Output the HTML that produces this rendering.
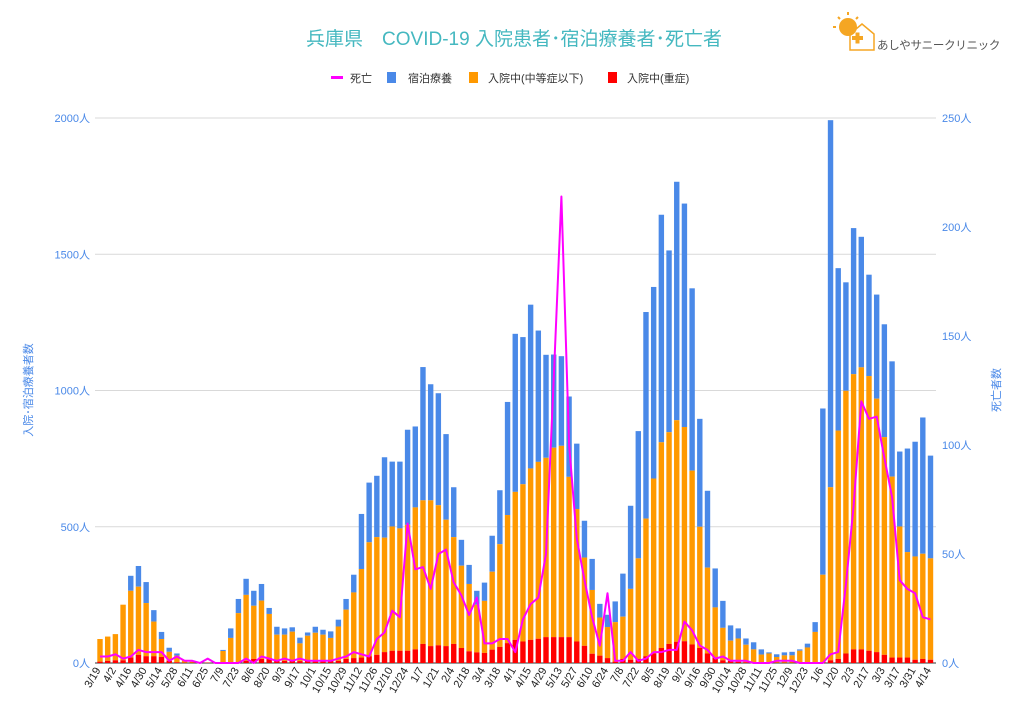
<!DOCTYPE html>
<html><head><meta charset="utf-8"><style>
body{margin:0;background:#fff;width:1024px;height:723px;overflow:hidden;font-family:"Liberation Sans","Noto Sans CJK JP",sans-serif}
</style></head><body>
<svg id="chart" width="1024" height="723" xmlns="http://www.w3.org/2000/svg" font-family="Liberation Sans, Noto Sans CJK JP, sans-serif">
<text x="514" y="45" text-anchor="middle" font-size="19" fill="#45b8c0">兵庫県　COVID-19 入院患者･宿泊療養者･死亡者</text>
<g>
<circle cx="848" cy="27" r="9" fill="#f5a623"/>
<g stroke="#f5a623" stroke-width="2"><line x1="848" y1="12" x2="848" y2="15"/><line x1="838" y1="17" x2="840" y2="19"/><line x1="858" y1="17" x2="856" y2="19"/><line x1="833" y1="27" x2="836" y2="27"/></g>
<path d="M850 50 V34 L862 24 L874 34 V50 Z" fill="none" stroke="#f5a623" stroke-width="1.5"/>
<rect x="852" y="36" width="11" height="4" fill="#f5a623"/><rect x="855.5" y="32.5" width="4" height="11" fill="#f5a623"/>
<text x="877" y="49" font-size="11.5" letter-spacing="-0.3" fill="#555">あしやサニークリニック</text>
</g>
<g font-size="11" fill="#333">
<g><rect x="331" y="76" width="12" height="3" fill="#ff00ff"/><text x="350" y="82">死亡</text></g>
<g><rect x="387" y="72" width="9" height="11" fill="#4a89e8"/><text x="408" y="82">宿泊療養</text></g>
<g><rect x="469" y="72" width="9" height="11" fill="#ff9900"/><text x="488" y="82">入院中(中等症以下)</text></g>
<g><rect x="608" y="72" width="9" height="11" fill="#ff0000"/><text x="627" y="82">入院中(重症)</text></g>
</g>
<text transform="translate(32,390) rotate(-90)" text-anchor="middle" font-size="11" fill="#4a89e8">入院･宿泊療養者数</text>
<text transform="translate(1000,390) rotate(-90)" text-anchor="middle" font-size="11" fill="#4a89e8">死亡者数</text>
<g id="grid"></g><g id="bars"></g><g id="line"></g><g id="xlab"></g>
</svg>
<script>
const xLabels=["3/19","4/2","4/16","4/30","5/14","5/28","6/11","6/25","7/9","7/23","8/6","8/20","9/3","9/17","10/1","10/15","10/29","11/12","11/26","12/10","12/24","1/7","1/21","2/4","2/18","3/4","3/18","4/1","4/15","4/29","5/13","5/27","6/10","6/24","7/8","7/22","8/5","8/19","9/2","9/16","9/30","10/14","10/28","11/11","11/25","12/9","12/23","1/6","1/20","2/3","2/17","3/3","3/17","3/31","4/14"];
const leftTicks=[0,500,1000,1500,2000];
const rightTicks=[0,50,100,150,200,250];
const totalCare=[88,97,106,214,320,356,297,194,114,56,35,10,5,3,2,3,48,127,235,309,265,290,202,133,127,131,93,112,133,122,116,159,235,324,547,662,687,755,739,739,856,868,1086,1023,990,840,645,452,360,265,295,467,634,958,1208,1196,1315,1220,1131,1132,1126,978,805,522,382,217,177,226,328,577,851,1288,1380,1645,1514,1766,1686,1375,896,632,347,228,138,127,90,76,50,39,32,39,41,50,71,150,934,1992,1449,1397,1596,1564,1425,1352,1243,1107,776,787,812,901,761];
const hospitalized=[88,97,106,214,265,280,220,152,88,41,27,10,5,3,2,3,44,92,183,250,210,229,180,104,104,115,72,100,111,104,92,134,196,259,345,443,462,460,501,494,507,571,597,597,579,526,462,357,290,214,228,335,436,543,628,656,714,738,753,790,797,683,565,387,268,167,132,150,170,272,384,530,677,810,847,891,866,706,500,350,204,129,82,90,67,50,31,35,22,28,28,45,57,114,324,645,853,999,1060,1085,1053,970,829,684,501,407,391,401,384];
const severe=[5,8,10,10,20,30,25,25,22,8,3,1,1,1,1,1,1,2,3,8,15,15,18,10,8,8,7,8,8,10,10,8,15,18,20,25,30,40,45,45,45,50,70,62,65,62,70,55,43,39,37,49,59,73,85,79,85,89,95,95,95,95,79,63,34,27,18,5,15,12,15,25,35,55,70,78,80,68,55,35,20,10,8,5,3,2,1,1,1,1,1,1,1,1,3,10,15,35,50,50,45,40,30,20,20,20,12,15,12];
const deaths=[3,3,4,2,3,6,5,5,5,1,3,1,1,0,2,0,0,0,0,2,0,3,2,1,2,1,2,1,1,1,1,2,3,5,4,3,11,14,24,21,64,43,44,34,50,52,37,31,22,30,9,9,11,11,5,20,27,30,50,130,214,100,57,38,21,8,32,1,1,5,1,2,5,5,6,6,19,15,8,6,2,3,1,1,1,0,0,0,1,1,1,0,0,0,0,4,5,36,72,120,112,113,94,76,38,34,32,21,20];
const NS="http://www.w3.org/2000/svg";
const X0=100,X1=930.5,Y0=663,Y1=118;
const n=totalCare.length;
function xs(i){return X0+i*(X1-X0)/(n-1);}
function yl(v){return Y0-v/2000*(Y0-Y1);}
function yr(v){return Y0-v/250*(Y0-Y1);}
function mk(tag,attrs,parent){const e=document.createElementNS(NS,tag);for(const k in attrs)e.setAttribute(k,attrs[k]);parent.appendChild(e);return e;}
const grid=document.getElementById('grid');
leftTicks.forEach(t=>{
 const l=mk('line',{x1:95,x2:936,y1:yl(t),y2:yl(t),stroke:t===0?'#333':'#d9d9d9','stroke-width':1},grid);
 
 
 const tx=mk('text',{x:90,y:yl(t)+4,'text-anchor':'end','font-size':11,fill:'#4a89e8'},grid);
 tx.textContent=t+'人';
 
 
});
rightTicks.forEach(t=>{
 const tx=mk('text',{x:942,y:yr(t)+4,'font-size':11,fill:'#4a89e8'},grid);
 tx.textContent=t+'人';
 
 
});
const bars=document.getElementById('bars');
const bw=5.4;
for(let i=0;i<n;i++){
 const x=xs(i)-bw/2;
 const b1=mk('rect',{x:x,y:yl(totalCare[i]),width:bw,height:Math.max(0,yl(hospitalized[i])-yl(totalCare[i])),fill:'#4a89e8'},bars);
 
 
 const b2=mk('rect',{x:x,y:yl(hospitalized[i]),width:bw,height:Math.max(0,yl(severe[i])-yl(hospitalized[i])),fill:'#ff9900'},bars);
 
 
 const b3=mk('rect',{x:x,y:yl(severe[i]),width:bw,height:Y0-yl(severe[i]),fill:'#ff0000'},bars);
 
 
}
const pts=deaths.map((d,i)=>xs(i).toFixed(1)+','+yr(d).toFixed(1)).join(' ');
const pl=mk('polyline',{points:pts,fill:'none',stroke:'#ff00ff','stroke-width':2,'stroke-linejoin':'round'},document.getElementById('line'));


const xl=document.getElementById('xlab');
xLabels.forEach((s,k)=>{
 const x=xs(k*2)+1,y=670;
 const t=mk('text',{x:x,y:y,'text-anchor':'end','font-size':11,fill:'#222',transform:`rotate(-60 ${x} ${y})`},xl);
 t.textContent=s;
 
 
});
</script>
</body></html>
